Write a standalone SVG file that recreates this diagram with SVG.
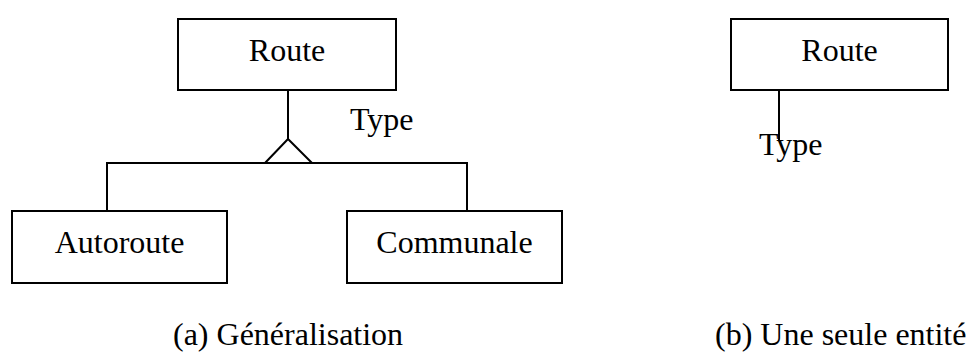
<svg xmlns="http://www.w3.org/2000/svg" width="968" height="352" viewBox="0 0 968 352">
<style>
.box{fill:#fff;stroke:#000;stroke-width:2}
.ln{fill:none;stroke:#000;stroke-width:2}
text{font-family:"Liberation Serif","Times New Roman",serif;font-size:32px;fill:#000}
.c{text-anchor:middle}
</style>
<rect width="968" height="352" fill="#fff"/>
<g id="connectors">
<path class="ln" d="M288 90V139M265 163L288 139L312 163M107 211V163H467V211"/>
<path class="ln" d="M779 90V140"/>
</g>
<g id="route-a"><rect class="box" x="178" y="19" width="218" height="71"/><text class="c" x="287" y="61">Route</text></g>
<g id="autoroute"><rect class="box" x="12" y="211" width="215" height="72"/><text class="c" x="119.5" y="253">Autoroute</text></g>
<g id="communale"><rect class="box" x="347" y="211" width="215" height="72"/><text class="c" x="454.5" y="253">Communale</text></g>
<g id="route-b"><rect class="box" x="731" y="19" width="217" height="71"/><text class="c" x="839.5" y="61">Route</text></g>
<text x="350" y="130">Type</text>
<text x="759" y="155">Type</text>
<text x="173" y="345">(a) Généralisation</text>
<text x="715" y="345">(b) Une seule entité</text>
</svg>
